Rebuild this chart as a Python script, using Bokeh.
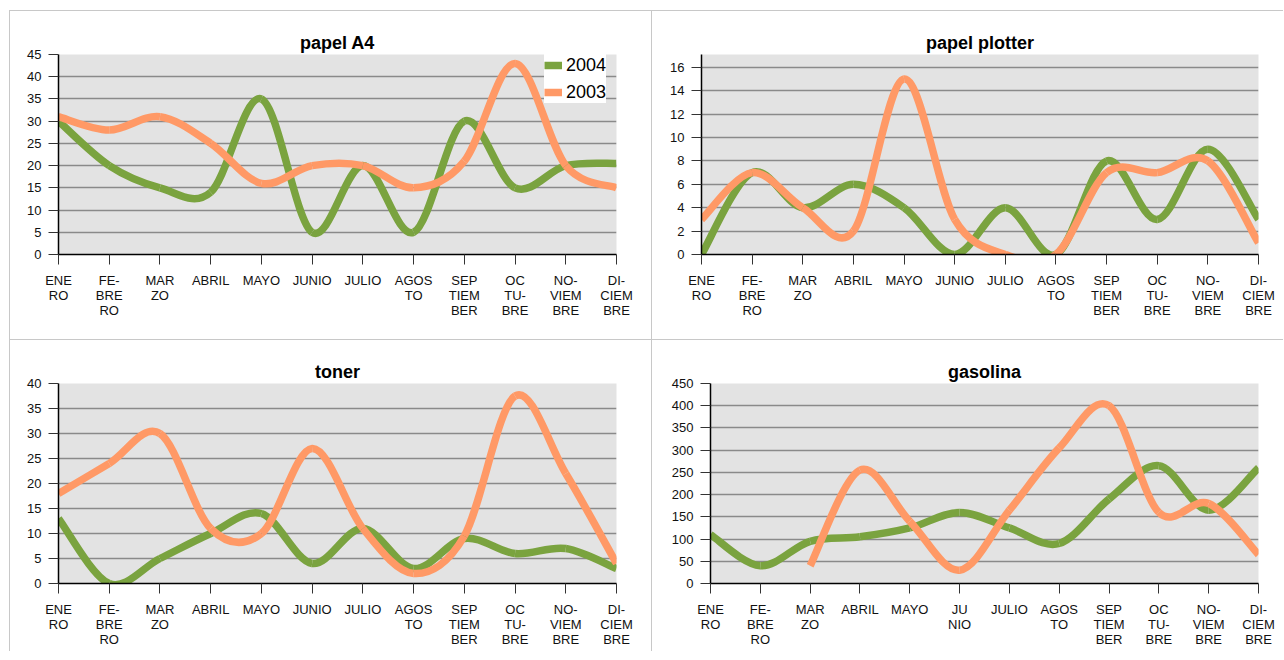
import numpy as np
from bokeh.plotting import figure
from bokeh.models import Range1d, FixedTicker, Legend, LegendItem, ColumnDataSource, Spacer
from bokeh.layouts import column, row
from bokeh.embed import file_html
from bokeh.resources import INLINE

# ---------------- data ----------------
meses = ["ENE\nRO", "FE-\nBRE\nRO", "MAR\nZO", "ABRIL", "MAYO", "JUNIO", "JULIO",
         "AGOS\nTO", "SEP\nTIEM\nBER", "OC\nTU-\nBRE", "NO-\nVIEM\nBRE", "DI-\nCIEM\nBRE"]
meses_gasolina = ["ENE\nRO", "FE-\nBRE\nRO", "MAR\nZO", "ABRIL", "MAYO", "JU\nNIO", "JULIO",
                  "AGOS\nTO", "SEP\nTIEM\nBER", "OC\nTU-\nBRE", "NO-\nVIEM\nBRE", "DI-\nCIEM\nBRE"]
series_names = ["2004", "2003"]

papel_a4_2004 = [30, 20, 15, 14, 35, 5, 20, 5, 30, 15, 20, 20.5]
papel_a4_2003 = [31, 28, 31, 25, 16, 20, 20, 15, 21, 43, 20, 15]

papel_plotter_2004 = [0, 7, 4, 6, 4, 0, 4, 0, 8, 3, 9, 3]
papel_plotter_2003 = [3, 7, 4, 2, 15, 3, 0, 0, 7, 7, 8, 1]

toner_2004 = [13, 0, 5, 10, 14, 4, 11, 3, 9, 6, 7, 3]
toner_2003 = [18, 24, 30, 11, 10, 27, 11, 2, 9.5, 37.5, 22, 4]

gasolina_2004 = [110, 40, 95, 105, 125, 160, 125, 90, 190, 265, 165, 260]
gasolina_2003 = [None, None, 40, 255, 140, 30, 165, 305, 400, 160, 180, 65]

# ---------------- styles ----------------
FONT = "Liberation Sans"
GREEN = "#7aa33f"
ORANGE = "#ff9966"
BG = "#e3e3e3"
GRID = "#8a8a8a"
LW = 7.5
PANEL_STYLE = {"box-shadow": "-1px -1px 0 0 #c8c8c8"}


def smooth_segments(ys, kx, ky):
    """Excel-like smoothed line: cubic Bezier segments between consecutive valid points."""
    n = len(ys)
    xs = np.arange(n, dtype=float)
    valid = lambda i: 0 <= i < n and ys[i] is not None
    out = {k: [] for k in ("x0", "y0", "x1", "y1", "cx0", "cy0", "cx1", "cy1")}
    scale = np.array([kx, ky])
    for i in range(n - 1):
        if not (valid(i) and valid(i + 1)):
            continue
        p1 = np.array([xs[i], ys[i]], float)
        p2 = np.array([xs[i + 1], ys[i + 1]], float)
        p0 = np.array([xs[i - 1], ys[i - 1]], float) if valid(i - 1) else p1
        p3 = np.array([xs[i + 2], ys[i + 2]], float) if valid(i + 2) else p2
        d12 = np.linalg.norm((p2 - p1) * scale)
        t1 = (p2 - p0) / 6.0
        t2 = (p3 - p1) / 6.0
        for t in (t1, t2):
            L = np.linalg.norm(t * scale)
            if L > d12 / 2 and L > 0:
                t *= (d12 / 2) / L
        c1 = p1 + t1
        c2 = p2 - t2
        out["x0"].append(p1[0]); out["y0"].append(p1[1])
        out["x1"].append(p2[0]); out["y1"].append(p2[1])
        out["cx0"].append(c1[0]); out["cy0"].append(c1[1])
        out["cx1"].append(c2[0]); out["cy1"].append(c2[1])
    return ColumnDataSource(out)


def panel(title, labels, s2004, s2003, ymax, yticks, width, height, borders, legend_loc=None):
    bl, br, bt, bb = borders
    p = figure(width=width, height=height, output_backend="svg", toolbar_location=None,
               x_range=Range1d(0, len(labels) - 1), y_range=Range1d(0, ymax),
               min_border_left=bl, min_border_right=br, min_border_top=bt, min_border_bottom=bb)
    p.styles = PANEL_STYLE
    p.background_fill_color = BG
    p.border_fill_color = "white"
    p.outline_line_color = None

    p.title.text = title
    p.title.align = "center"
    p.title.text_font = FONT
    p.title.text_font_size = "18px"
    p.title.text_font_style = "bold"
    p.title.text_color = "black"
    p.title.standoff = 3

    p.xaxis.ticker = FixedTicker(ticks=list(range(len(labels))), minor_ticks=[])
    p.xaxis.major_label_overrides = {i: lab for i, lab in enumerate(labels)}
    p.yaxis.ticker = FixedTicker(ticks=yticks, minor_ticks=[])
    for ax in (p.xaxis[0], p.yaxis[0]):
        ax.axis_line_color = "black"
        ax.axis_line_width = 1.5
        ax.major_tick_line_color = "#333333"
        ax.major_tick_line_width = 1
        ax.major_tick_out = 10
        ax.major_tick_in = 0
        ax.minor_tick_line_color = None
        ax.major_label_text_font = FONT
        ax.major_label_text_font_size = "13px"
        ax.major_label_text_color = "#111111"
    p.xaxis.major_label_text_line_height = 1.03
    p.xaxis.major_label_standoff = 8
    p.yaxis.major_label_standoff = 7

    p.xgrid.visible = False
    p.ygrid.grid_line_color = GRID
    p.ygrid.grid_line_width = 1.3

    frame_w = width - bl - br
    frame_h = height - bt - bb
    kx = frame_w / (len(labels) - 1)
    ky = frame_h / ymax

    rg = p.bezier(x0="x0", y0="y0", x1="x1", y1="y1", cx0="cx0", cy0="cy0", cx1="cx1", cy1="cy1",
                  source=smooth_segments(s2004, kx, ky), line_color=GREEN, line_width=LW)
    ro = p.bezier(x0="x0", y0="y0", x1="x1", y1="y1", cx0="cx0", cy0="cy0", cx1="cx1", cy1="cy1",
                  source=smooth_segments(s2003, kx, ky), line_color=ORANGE, line_width=LW)

    if legend_loc is not None:
        leg = Legend(items=[LegendItem(label=series_names[0], renderers=[rg]),
                            LegendItem(label=series_names[1], renderers=[ro])],
                     location=legend_loc)
        leg.background_fill_color = "white"
        leg.background_fill_alpha = 1
        leg.border_line_color = None
        leg.label_text_font = FONT
        leg.label_text_font_size = "18px"
        leg.label_text_color = "black"
        leg.glyph_width = 18
        leg.glyph_height = 20
        leg.label_height = 22
        leg.label_standoff = 4
        leg.spacing = 5
        leg.padding = 6
        leg.margin = 0
        p.add_layout(leg)
    return p


p1 = panel("papel A4", meses, papel_a4_2004, papel_a4_2003, 45, list(range(0, 46, 5)),
           642, 329, (48, 36, 43, 86), legend_loc=(486, 151))
p2 = panel("papel plotter", meses, papel_plotter_2004, papel_plotter_2003, 17.1,
           list(range(0, 17, 2)), 632, 329, (49, 26, 43, 86))
p3 = panel("toner", meses, toner_2004, toner_2003, 40, list(range(0, 41, 5)),
           642, 312, (48, 36, 43, 69))
p4 = panel("gasolina", meses_gasolina, gasolina_2004, gasolina_2003, 450,
           list(range(0, 451, 50)), 632, 312, (58, 26, 43, 69))

layout = column(Spacer(width=10, height=11),
                row(Spacer(width=10, height=10), p1, p2, spacing=0),
                row(Spacer(width=10, height=10), p3, p4, spacing=0),
                spacing=0)

open("out.html", "w").write(file_html(layout, INLINE))
